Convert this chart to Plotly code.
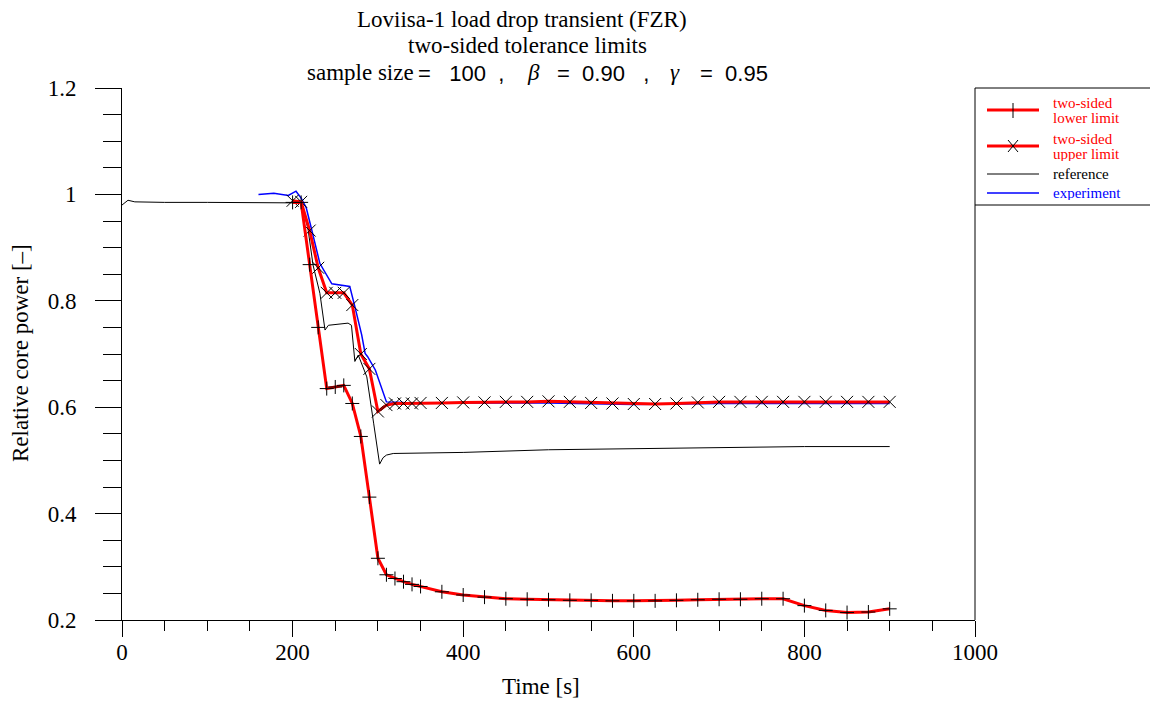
import plotly.graph_objects as go

# ---------------- data ----------------
ref_t = [0, 7, 15, 50, 100, 150, 205, 210, 218, 224, 232, 238, 242, 265, 269, 273, 277,
         287, 295, 302, 306, 310, 318, 350, 400, 500, 600, 700, 800, 900]
ref_v = [0.980, 0.989, 0.986, 0.985, 0.985, 0.985, 0.985, 0.984, 0.936, 0.867, 0.814, 0.745,
         0.754, 0.758, 0.754, 0.686, 0.698, 0.657, 0.570, 0.493, 0.505, 0.510, 0.513, 0.514,
         0.515, 0.520, 0.522, 0.525, 0.526, 0.526]

exp_t = [160, 178, 195, 204, 210, 216, 222, 232, 246, 267, 273, 281, 285, 288, 297, 310,
         330, 400, 500, 550, 600, 650, 700, 800, 900]
exp_v = [1.000, 1.002, 0.998, 1.006, 0.993, 0.975, 0.936, 0.870, 0.832, 0.827, 0.789, 0.736,
         0.701, 0.695, 0.670, 0.610, 0.609, 0.608, 0.608, 0.606, 0.605, 0.606, 0.607, 0.607,
         0.607]

lim_t = [200, 210, 220, 230, 240, 250, 260, 270, 280, 290, 300, 310, 320, 330, 340, 350,
         375, 400, 425, 450, 475, 500, 525, 550, 575, 600, 625, 650, 675, 700, 725, 750,
         775, 800, 825, 850, 875, 900]
lower_v = [0.985, 0.985, 0.868, 0.750, 0.635, 0.638, 0.641, 0.607, 0.545, 0.431, 0.316,
           0.285, 0.278, 0.272, 0.267, 0.263, 0.253, 0.247, 0.243, 0.240, 0.239, 0.238,
           0.237, 0.237, 0.236, 0.236, 0.236, 0.237, 0.238, 0.239, 0.239, 0.240, 0.240,
           0.227, 0.218, 0.214, 0.215, 0.221]
upper_v = [0.988, 0.986, 0.932, 0.862, 0.815, 0.815, 0.815, 0.792, 0.700, 0.672, 0.592,
           0.604, 0.607, 0.607, 0.607, 0.608, 0.608, 0.609, 0.609, 0.610, 0.610, 0.611,
           0.610, 0.608, 0.607, 0.606, 0.606, 0.607, 0.609, 0.610, 0.610, 0.610, 0.610,
           0.610, 0.610, 0.610, 0.610, 0.610]

x_ticks = [0, 200, 400, 600, 800, 1000]
y_ticks = [0.2, 0.4, 0.6, 0.8, 1.0, 1.2]

FONT = "Liberation Serif"
SANS = "Liberation Sans"
W, H = 1150, 704
L, R, T, B = 122, 175, 88, 84
PW, PH = W - L - R, H - T - B
NB = "\u00a0"


def px(x):
    return (x - L) / PW


def py(y):
    return (H - B - y) / PH


fig = go.Figure()
fig.add_trace(go.Scatter(x=ref_t, y=ref_v, mode="lines", name="reference",
                         line=dict(color="black", width=1), showlegend=False))
fig.add_trace(go.Scatter(x=exp_t, y=exp_v, mode="lines", name="experiment",
                         line=dict(color="#0000ff", width=1.5), showlegend=False))
fig.add_trace(go.Scatter(x=lim_t, y=upper_v, mode="lines+markers", name="two-sided upper limit",
                         line=dict(color="#ff0000", width=3),
                         marker=dict(symbol="x-thin", size=12, color="black",
                                     line=dict(color="black", width=1)),
                         showlegend=False))
fig.add_trace(go.Scatter(x=lim_t, y=lower_v, mode="lines+markers", name="two-sided lower limit",
                         line=dict(color="#ff0000", width=3),
                         marker=dict(symbol="cross-thin", size=10, color="black",
                                     line=dict(color="black", width=1)),
                         showlegend=False))

shapes = []
# right frame line
shapes.append(dict(type="line", xref="paper", yref="paper", x0=1, x1=1, y0=0, y1=1,
                   line=dict(color="black", width=1)))
# legend box top / bottom
for yy in (88, 205):
    shapes.append(dict(type="line", xref="paper", yref="paper", x0=1, x1=px(1150),
                       y0=py(yy), y1=py(yy), line=dict(color="black", width=1)))
# legend samples
samples = [(110, "#ff0000", 3), (146, "#ff0000", 3), (174, "black", 1), (193, "#0000ff", 1.5)]
for yy, c, w in samples:
    shapes.append(dict(type="line", xref="paper", yref="paper", x0=px(987), x1=px(1039),
                       y0=py(yy), y1=py(yy), line=dict(color=c, width=w)))
# plus marker
shapes.append(dict(type="line", xref="paper", yref="paper", x0=px(1013), x1=px(1013),
                   y0=py(103), y1=py(118), line=dict(color="black", width=1)))
# x marker
shapes.append(dict(type="line", xref="paper", yref="paper", x0=px(1008), x1=px(1018),
                   y0=py(140), y1=py(152), line=dict(color="black", width=1)))
shapes.append(dict(type="line", xref="paper", yref="paper", x0=px(1008), x1=px(1018),
                   y0=py(152), y1=py(140), line=dict(color="black", width=1)))

ann = []


def text(s, x, y, size=23, color="black", xanchor="left", angle=0, height=None, family=FONT):
    a = dict(text=s, x=px(x), y=py(y), xref="paper", yref="paper", showarrow=False,
             xanchor=xanchor, yanchor="middle", textangle=angle,
             font=dict(family=family, size=size, color=color))
    if height is not None:
        a["height"] = height
        a["borderpad"] = 0
    ann.append(a)


# title
text("Loviisa-1 load drop transient (FZR)", 355, 19)
text("two-sided tolerance limits", 406, 46)
text("sample size", 305, 73)
text(NB + "=" + NB * 3 + "100" + NB * 2 + ",", 410, 74, size=22, family=SANS)
text("<i>β</i>", 525, 73)
text("=" + NB * 2 + "0.90" + NB * 3 + ",", 555, 74, size=22, family=SANS)
text("<i>γ</i>", 668, 73)
text("=" + NB * 2 + "0.95", 698, 74, size=22, family=SANS)
# axis titles
text("Time [s]", 541, 686, xanchor="center")
text("Relative core power [–]", 20, 353, xanchor="center", angle=-90)
# legend texts
LS = 15
text("two-sided", 1052, 103, LS, "#ff0000", height=14)
text("lower limit", 1052, 118, LS, "#ff0000", height=14)
text("two-sided", 1052, 139, LS, "#ff0000", height=14)
text("upper limit", 1052, 154, LS, "#ff0000", height=14)
text("reference", 1052, 174, LS, "black", height=14)
text("experiment", 1052, 193, LS, "#0000ff", height=14)

fig.update_layout(
    width=W, height=H,
    margin=dict(l=L, r=R, t=T, b=B, pad=0),
    paper_bgcolor="white", plot_bgcolor="white",
    showlegend=False,
    shapes=shapes, annotations=ann,
    font=dict(family=FONT, size=23, color="black"),
)
fig.update_xaxes(range=[0, 1000], tickvals=x_ticks, ticks="outside", ticklen=16,
                 tickwidth=1, tickcolor="black", showline=True, linecolor="black",
                 linewidth=1, showgrid=False, zeroline=False, ticklabelstandoff=-5,
                 tickfont=dict(family=FONT, size=23, color="black"),
                 minor=dict(dtick=50, tick0=0, ticks="outside", ticklen=10,
                            tickcolor="black", tickwidth=1, showgrid=False))
fig.update_yaxes(range=[0.2, 1.2], tickvals=y_ticks, ticks="outside", ticklen=26,
                 tickwidth=1, tickcolor="black", showline=True, linecolor="black",
                 linewidth=1, showgrid=False, zeroline=False, ticklabelstandoff=14,
                 tickfont=dict(family=FONT, size=23, color="black"),
                 minor=dict(dtick=0.05, tick0=0, ticks="outside", ticklen=18,
                            tickcolor="black", tickwidth=1, showgrid=False))

fig.write_html("out.html")
